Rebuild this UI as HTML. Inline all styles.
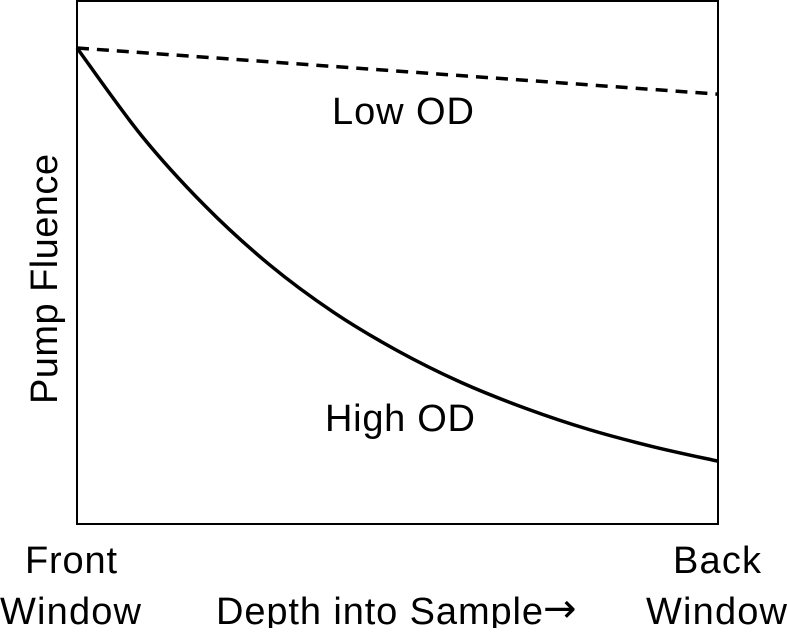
<!DOCTYPE html>
<html><head><meta charset="utf-8"><style>
body{margin:0;background:#fff}
svg text{font-family:"Liberation Sans",sans-serif;font-size:38px;fill:#000}
</style></head><body>
<svg width="787" height="628">
<rect x="77" y="1" width="641" height="523" fill="none" stroke="#000" stroke-width="2"/>
<g id="series"></g>
<text x="403" y="124" text-anchor="middle" textLength="142">Low OD</text>
<text x="400" y="431" text-anchor="middle" textLength="150">High OD</text>
<text transform="translate(57,279) rotate(-90)" text-anchor="middle" textLength="250">Pump Fluence</text>
<text x="25" y="573" textLength="92">Front</text>
<text x="0" y="624" textLength="141">Window</text>
<text x="216" y="624" textLength="327">Depth into Sample</text>
<text x="543" y="622" font-family="DejaVu Sans" style="font-family:'DejaVu Sans',sans-serif;font-size:40px" textLength="40">→</text>
<text x="673" y="573" textLength="88">Back</text>
<text x="646" y="624" textLength="141">Window</text>
</svg>
<script>
const depth=[0,0.1,0.2,0.3,0.4,0.5,0.6,0.7,0.8,0.9,1.0];
const highOD=[1,0.817,0.668,0.545,0.445,0.364,0.297,0.243,0.198,0.162,0.132];
const lowDepth=[0,1];
const lowOD=[1,0.903];
const xs=v=>77+v*641, ys=v=>524-v*476;
function pathFor(xa,ya){
  const p=xa.map((x,i)=>[xs(x),ys(ya[i])]);
  let d='M'+p[0][0]+','+p[0][1];
  for(let i=0;i<p.length-1;i++){
    const p0=p[i-1]||p[i],p1=p[i],p2=p[i+1],p3=p[i+2]||p2;
    d+=' C'+(p1[0]+(p2[0]-p0[0])/6)+','+(p1[1]+(p2[1]-p0[1])/6)+' '+(p2[0]-(p3[0]-p1[0])/6)+','+(p2[1]-(p3[1]-p1[1])/6)+' '+p2[0]+','+p2[1];
  }
  return d;
}
const g=document.getElementById('series');
const ns='http://www.w3.org/2000/svg';
const h=document.createElementNS(ns,'path');
h.setAttribute('d',pathFor(depth,highOD));
h.setAttribute('fill','none');h.setAttribute('stroke','#000');h.setAttribute('stroke-width','3.5');


g.appendChild(h);
const l=document.createElementNS(ns,'path');
l.setAttribute('d',pathFor(lowDepth,lowOD));
l.setAttribute('fill','none');l.setAttribute('stroke','#000');l.setAttribute('stroke-width','3.5');l.setAttribute('stroke-dasharray','12,8');


g.appendChild(l);
</script>
</body></html>
